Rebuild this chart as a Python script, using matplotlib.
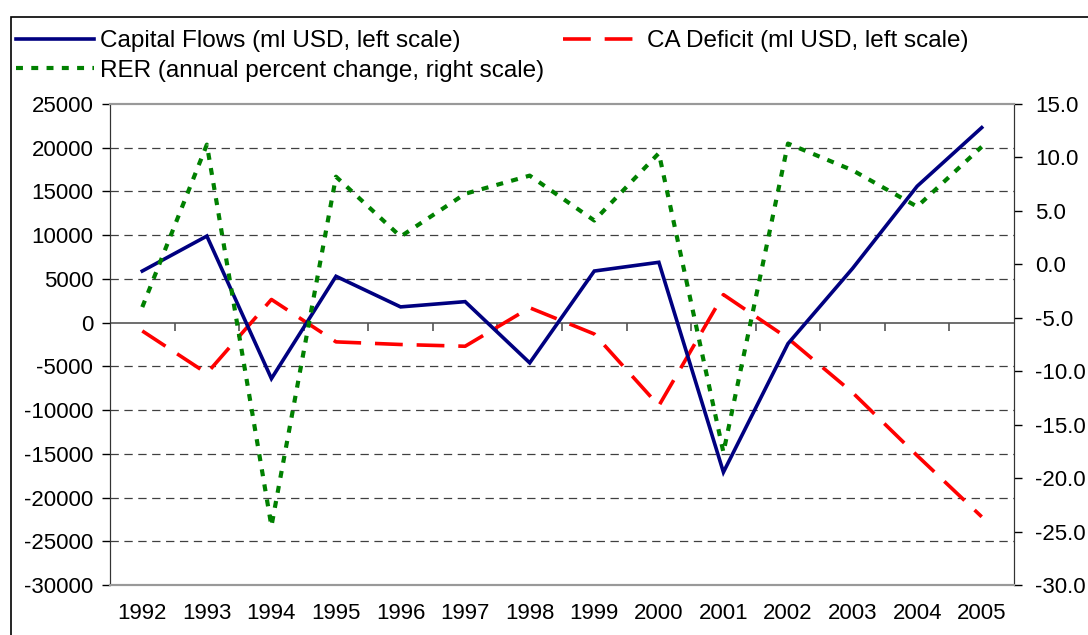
"""
Capital flows, CA deficit and RER change, 1992-2005.
Two y-axes: millions of USD on the left, percent on the right.
"""

import matplotlib
matplotlib.use("Agg")
import matplotlib.pyplot as plt
from matplotlib.patches import Rectangle
from matplotlib.ticker import FuncFormatter

# ── Data ──────────────────────────────────────────────────────────────────────

years = ["1992", "1993", "1994", "1995", "1996", "1997", "1998",
         "1999", "2000", "2001", "2002", "2003", "2004", "2005"]

capital_flows = [5900, 9900, -6400, 5300, 1800, 2400, -4600,
                 5900, 6900, -17100, -2400, 6200, 15600, 22300]

ca_deficit = [-950, -5800, 2650, -2200, -2500, -2700, 1700,
              -1300, -9500, 3200, -1800, -8000, -15200, -22200]

rer_change = [-4.0, 11.2, -24.5, 8.2, 2.6, 6.6, 8.3,
              4.1, 10.4, -17.6, 11.3, 8.8, 5.4, 11.0]

left_ticks = [25000, 20000, 15000, 10000, 5000, 0, -5000, -10000,
              -15000, -20000, -25000, -30000]
right_ticks = [15, 10, 5, 0, -5, -10, -15, -20, -25, -30]

label_cf = "Capital Flows (ml USD, left scale)"
label_ca = "CA Deficit (ml USD, left scale)"
label_rer = "RER (annual percent change, right scale)"

# ── Style ─────────────────────────────────────────────────────────────────────

plt.rcParams["font.family"] = ["Liberation Sans", "DejaVu Sans"]
plt.rcParams["lines.scale_dashes"] = False
plt.rcParams["axes.unicode_minus"] = False
FS = 16          # tick labels
FS_LEG = 17.5    # legend text

fig = plt.figure(figsize=(10.88, 6.35), dpi=100)
ax = fig.add_axes([110 / 1088, 1 - 585 / 635, (1014 - 110) / 1088, (585 - 104) / 635])
ax2 = ax.twinx()

x = list(range(len(years)))

# ── Lines ─────────────────────────────────────────────────────────────────────

l_cf, = ax.plot(x, capital_flows, color="#000080", lw=2.6, zorder=4,
                solid_joinstyle="miter")
l_ca, = ax.plot(x, ca_deficit, color="#FF0000", lw=2.6, zorder=3,
                dashes=(20, 10))
l_rer, = ax2.plot(x, rer_change, color="#008000", lw=3.0,
                  dashes=(5, 6))

# ── Axes ──────────────────────────────────────────────────────────────────────

ax.set_xlim(-0.5, len(years) - 0.5)
ax.set_ylim(min(left_ticks), max(left_ticks))
ax2.set_ylim(min(right_ticks), max(right_ticks))

ax.set_yticks(left_ticks)
ax.tick_params(axis="y", direction="out", length=6, width=1, pad=6,
               labelsize=FS, colors="black")
ax2.set_yticks(right_ticks)
ax2.yaxis.set_major_formatter(FuncFormatter(lambda v, p: f"{v:.1f}"))
ax2.tick_params(axis="y", direction="out", length=6, width=1, pad=9,
                labelsize=FS, colors="black")

ax.set_xticks(x)
ax.set_xticklabels(years, fontsize=FS)
ax.tick_params(axis="x", length=0, pad=13)

# dashed gridlines at the left-scale ticks
for v in left_ticks:
    if v not in (0, max(left_ticks), min(left_ticks)):
        ax.axhline(v, color="#404040", lw=0.9, dashes=(6, 4), zorder=1)

# category axis at zero with tick marks between the years
ax.axhline(0, color="#555555", lw=1.2, zorder=2)
tick_len = (max(left_ticks) - min(left_ticks)) / 481 * 8
ax.vlines([i + 0.5 for i in x[:-1]], -tick_len, 0, color="#555555", lw=1.2, zorder=2)

for a in (ax, ax2):
    a.spines["top"].set_color("#999999")
    a.spines["top"].set_linewidth(1.5)
    a.spines["bottom"].set_color("#999999")
    a.spines["bottom"].set_linewidth(1.5)
    a.spines["left"].set_color("#333333")
    a.spines["right"].set_color("#333333")
ax2.set_zorder(ax.get_zorder() + 1)
ax2.patch.set_visible(False)

# ── Legend and outer frame ────────────────────────────────────────────────────

fig.legend([l_cf, l_rer, l_ca], [label_cf, label_rer, label_ca],
           loc="upper left", bbox_to_anchor=(16 / 1088, 1 - 30 / 635),
           ncol=2, frameon=False, fontsize=FS_LEG, handlelength=3.2,
           handletextpad=0.25, columnspacing=0.8, labelspacing=0.32,
           borderpad=0, borderaxespad=0)

fig.patches.append(Rectangle((11 / 1088, -0.1), 1.2, 1 - 17 / 635 + 0.1,
                             transform=fig.transFigure, fill=False,
                             edgecolor="black", lw=1.2))

fig.savefig("out.png", dpi=100)
